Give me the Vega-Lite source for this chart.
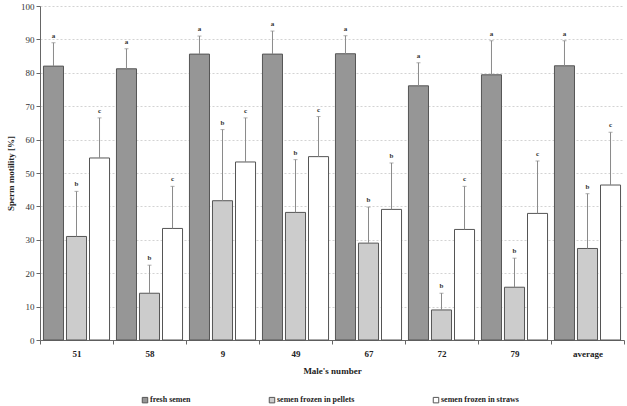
{
  "$schema": "https://vega.github.io/schema/vega-lite/v6.json",
  "autosize": {"type": "none"},
  "width": 584,
  "height": 334,
  "padding": {"left": 40, "top": 6, "right": 3, "bottom": 66},
  "background": "white",
  "config": {
    "view": {"stroke": null},
    "font": "Liberation Serif",
    "axis": {"labelFont": "Liberation Serif", "titleFont": "Liberation Serif", "domainColor": "#666", "tickColor": "#666"},
    "axisY": {
      "titleFontSize": 9, "titleFontWeight": "bold", "titleColor": "#222", "titlePadding": 5,
      "tickCount": 10, "labelOverlap": false,
      "labelFontSize": 9, "labelColor": "#333", "tickSize": 4, "labelPadding": 2,
      "grid": true, "gridColor": "#c8c8c8", "gridDash": [2, 2], "gridWidth": 0.8
    }
  },
  "data": {
    "values": [
      {"male": "51", "treatment": "fresh semen", "value": 82, "upper": 89, "letter": "a"},
      {"male": "51", "treatment": "semen frozen in pellets", "value": 31, "upper": 44.5, "letter": "b"},
      {"male": "51", "treatment": "semen frozen in straws", "value": 54.5, "upper": 66.5, "letter": "c"},
      {"male": "58", "treatment": "fresh semen", "value": 81.2, "upper": 87.2, "letter": "a"},
      {"male": "58", "treatment": "semen frozen in pellets", "value": 14, "upper": 22.4, "letter": "b"},
      {"male": "58", "treatment": "semen frozen in straws", "value": 33.4, "upper": 46, "letter": "c"},
      {"male": "9", "treatment": "fresh semen", "value": 85.6, "upper": 91, "letter": "a"},
      {"male": "9", "treatment": "semen frozen in pellets", "value": 41.7, "upper": 63, "letter": "b"},
      {"male": "9", "treatment": "semen frozen in straws", "value": 53.3, "upper": 66.5, "letter": "c"},
      {"male": "49", "treatment": "fresh semen", "value": 85.6, "upper": 92.5, "letter": "a"},
      {"male": "49", "treatment": "semen frozen in pellets", "value": 38.2, "upper": 54, "letter": "b"},
      {"male": "49", "treatment": "semen frozen in straws", "value": 54.9, "upper": 66.9, "letter": "c"},
      {"male": "67", "treatment": "fresh semen", "value": 85.7, "upper": 91.1, "letter": "a"},
      {"male": "67", "treatment": "semen frozen in pellets", "value": 29, "upper": 39.8, "letter": "b"},
      {"male": "67", "treatment": "semen frozen in straws", "value": 39.1, "upper": 53, "letter": "b"},
      {"male": "72", "treatment": "fresh semen", "value": 76.1, "upper": 83, "letter": "a"},
      {"male": "72", "treatment": "semen frozen in pellets", "value": 9, "upper": 14, "letter": "b"},
      {"male": "72", "treatment": "semen frozen in straws", "value": 33.1, "upper": 46, "letter": "c"},
      {"male": "79", "treatment": "fresh semen", "value": 79.4, "upper": 89.6, "letter": "a"},
      {"male": "79", "treatment": "semen frozen in pellets", "value": 15.8, "upper": 24.5, "letter": "b"},
      {"male": "79", "treatment": "semen frozen in straws", "value": 37.9, "upper": 53.6, "letter": "c"},
      {"male": "average", "treatment": "fresh semen", "value": 82.1, "upper": 89.6, "letter": "a"},
      {"male": "average", "treatment": "semen frozen in pellets", "value": 27.4, "upper": 43.8, "letter": "b"},
      {"male": "average", "treatment": "semen frozen in straws", "value": 46.4, "upper": 62.2, "letter": "c"}
    ]
  },
  "encoding": {
    "x": {
      "field": "male", "type": "nominal",
      "sort": ["51", "58", "9", "49", "67", "72", "79", "average"],
      "scale": {"paddingInner": 0, "paddingOuter": 0},
      "axis": {
        "title": "Male's number", "titleFontSize": 9, "titleFontWeight": "bold", "titleColor": "#222", "titlePadding": 8,
        "labelAngle": 0, "labelFontSize": 9, "labelFontWeight": "bold", "labelColor": "#222", "labelPadding": 5,
        "tickBand": "extent", "tickSize": 4, "grid": false
      }
    },
    "xOffset": {
      "field": "treatment", "type": "nominal",
      "sort": ["fresh semen", "semen frozen in pellets", "semen frozen in straws"],
      "scale": {"paddingInner": 0.13, "paddingOuter": 0.15}
    }
  },
  "layer": [
    {
      "mark": {"type": "bar", "stroke": "#555", "strokeWidth": 1},
      "encoding": {
        "y": {
          "field": "value", "type": "quantitative", "title": "Sperm motility [%]",
          "scale": {"domain": [0, 100], "nice": false}
        },
        "fill": {
          "field": "treatment", "type": "nominal",
          "sort": ["fresh semen", "semen frozen in pellets", "semen frozen in straws"],
          "scale": {"domain": ["fresh semen", "semen frozen in pellets", "semen frozen in straws"], "range": ["#969696", "#cccccc", "#ffffff"]},
          "legend": {
            "title": null, "orient": "none", "direction": "horizontal", "legendX": 101, "legendY": 390,
            "columnPadding": 76, "symbolType": "square", "symbolSize": 30, "symbolStrokeColor": "#555", "symbolStrokeWidth": 1,
            "labelFont": "Liberation Serif", "labelFontSize": 8, "labelFontWeight": "bold", "labelColor": "#222", "labelOffset": 1
          }
        }
      }
    },
    {
      "mark": {"type": "rule", "color": "#8a8a8a", "strokeWidth": 1},
      "encoding": {
        "y": {"field": "value", "type": "quantitative", "title": "Sperm motility [%]"},
        "y2": {"field": "upper"}
      }
    },
    {
      "mark": {"type": "tick", "color": "#8a8a8a", "thickness": 1, "size": 4},
      "encoding": {
        "y": {"field": "upper", "type": "quantitative", "title": "Sperm motility [%]"}
      }
    },
    {
      "mark": {"type": "text", "dy": -7, "fontSize": 7, "fontWeight": "bold", "font": "Liberation Serif", "color": "#333"},
      "encoding": {
        "y": {"field": "upper", "type": "quantitative", "title": "Sperm motility [%]"},
        "text": {"field": "letter"}
      }
    }
  ]
}
